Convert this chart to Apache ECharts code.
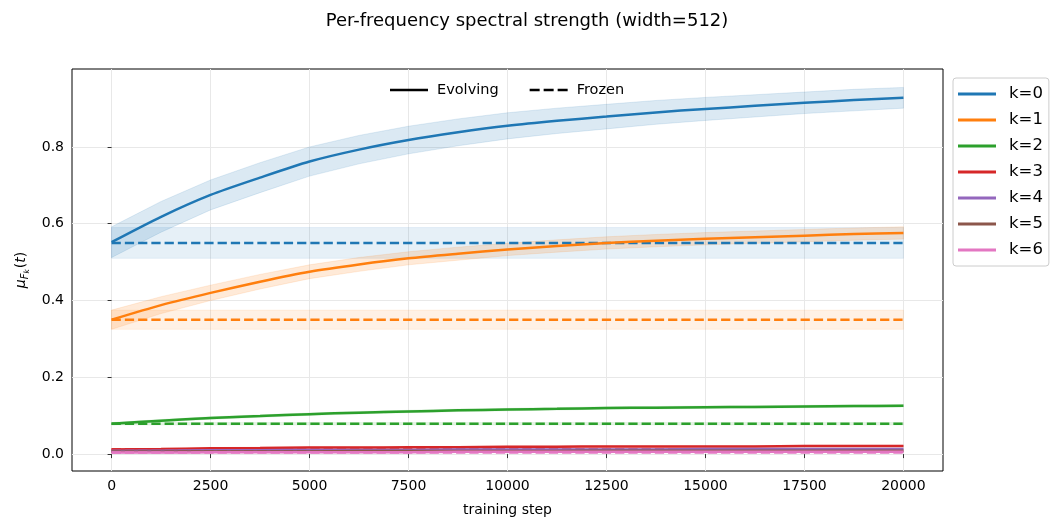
<!DOCTYPE html>
<html><head><meta charset="utf-8">
<script src="https://cdn.jsdelivr.net/npm/echarts@6/dist/echarts.min.js"></script>
<style>html,body{margin:0;padding:0;background:#fff}#c{width:1054px;height:519px}</style>
</head><body><div id="c"></div>
<script>
// ---- data ----
const steps = [0,1250,2500,3750,5000,6250,7500,8750,10000,11250,12500,13750,15000,16250,17500,18750,20000];
const kLabels = ['k=0','k=1','k=2','k=3','k=4','k=5','k=6'];
const colors = ['#1f77b4','#ff7f0e','#2ca02c','#d62728','#9467bd','#8c564b','#e377c2'];
const evoK0 = [0.552,0.618,0.675,0.720,0.762,0.793,0.818,0.838,0.855,0.868,0.879,0.890,0.899,0.907,0.915,0.922,0.928];
const evoK1 = [0.350,0.388,0.420,0.449,0.475,0.494,0.510,0.522,0.533,0.542,0.550,0.556,0.561,0.565,0.569,0.573,0.576];
const evoK2 = [0.079,0.087,0.094,0.099,0.104,0.108,0.111,0.114,0.116,0.118,0.120,0.121,0.122,0.123,0.124,0.125,0.126];
const evoK3 = [0.012,0.013,0.015,0.016,0.017,0.017,0.018,0.018,0.019,0.019,0.020,0.020,0.020,0.020,0.021,0.021,0.021];
const evoK4 = [0.008,0.009,0.010,0.010,0.011,0.011,0.011,0.012,0.012,0.012,0.012,0.012,0.013,0.013,0.013,0.013,0.013];
const evoK5 = [0.006,0.006,0.007,0.007,0.007,0.008,0.008,0.008,0.008,0.008,0.009,0.009,0.009,0.009,0.009,0.009,0.009];
const evoK6 = [0.004,0.004,0.005,0.005,0.005,0.005,0.005,0.006,0.006,0.006,0.006,0.006,0.006,0.006,0.006,0.006,0.006];
const stdK0 = [0.040,0.040,0.039,0.039,0.038,0.037,0.036,0.035,0.034,0.033,0.032,0.031,0.030,0.029,0.028,0.028,0.027];
const stdK1 = [0.025,0.022,0.020,0.019,0.018,0.018,0.017,0.017,0.016,0.016,0.016,0.016,0.016,0.016,0.016,0.016,0.016];
const stdK2 = [0.003,0.003,0.003,0.003,0.003,0.003,0.003,0.003,0.003,0.003,0.003,0.003,0.003,0.003,0.003,0.003,0.003];
const stdK3 = [0.002,0.002,0.002,0.002,0.002,0.002,0.002,0.002,0.002,0.002,0.002,0.002,0.002,0.002,0.002,0.002,0.002];
const stdK4 = [0.001,0.001,0.001,0.001,0.001,0.001,0.001,0.001,0.001,0.001,0.001,0.001,0.001,0.001,0.001,0.001,0.001];
const stdK5 = [0.001,0.001,0.001,0.001,0.001,0.001,0.001,0.001,0.001,0.001,0.001,0.001,0.001,0.001,0.001,0.001,0.001];
const stdK6 = [0.001,0.001,0.001,0.001,0.001,0.001,0.001,0.001,0.001,0.001,0.001,0.001,0.001,0.001,0.001,0.001,0.001];
const frozenSteps = [0,20000];
const frozenMean = [0.55,0.35,0.079,0.012,0.008,0.006,0.004];
const frozenStd = [0.040,0.025,0.003,0.002,0.001,0.001,0.001];
const xTicks = [0,2500,5000,7500,10000,12500,15000,17500,20000];
const yTicks = [0,0.2,0.4,0.6,0.8];

const evo = [evoK0,evoK1,evoK2,evoK3,evoK4,evoK5,evoK6];
const evoStd = [stdK0,stdK1,stdK2,stdK3,stdK4,stdK5,stdK6];

function hexA(h,a){const r=parseInt(h.slice(1,3),16),g=parseInt(h.slice(3,5),16),b=parseInt(h.slice(5,7),16);return `rgba(${r},${g},${b},${a})`;}

const FONT = 'DejaVu Sans';
const DASH = [9.25,4];
const series = [];
function band(xs, mean, std, color, alpha){
  series.push({type:'custom', name:'_band', silent:true, z:1, clip:true,
    data:[[xs[0], mean[0]]],
    renderItem:function(params, api){
      const pts = [];
      for(let i=0;i<xs.length;i++) pts.push(api.coord([xs[i], mean[i]+std[i]]));
      for(let i=xs.length-1;i>=0;i--) pts.push(api.coord([xs[i], mean[i]-std[i]]));
      return {type:'polygon', shape:{points:pts}, style:{fill:hexA(color,alpha), stroke:hexA(color,alpha*0.8), lineWidth:1}};
    }});
}
for(let k=0;k<7;k++){
  band(steps, evo[k], evoStd[k], colors[k], 0.16);
  band(frozenSteps, frozenSteps.map(()=>frozenMean[k]), frozenSteps.map(()=>frozenStd[k]), colors[k], 0.11);
}
for(let k=0;k<7;k++){
  series.push({type:'line', name:kLabels[k], data:steps.map((x,i)=>[x,evo[k][i]]), symbol:'none', smooth:0.25,
    lineStyle:{color:colors[k], width:2.5}, itemStyle:{color:colors[k]}, z:3});
  series.push({type:'line', name:kLabels[k], data:frozenSteps.map(x=>[x,frozenMean[k]]), symbol:'none',
    lineStyle:{color:colors[k], width:2.5, type:DASH}, itemStyle:{color:colors[k]}, z:3});
}
series.push({type:'line', name:'Evolving', data:[], symbol:'none', lineStyle:{color:'#000', width:2.5}, itemStyle:{color:'#000'}});
series.push({type:'line', name:'Frozen', data:[], symbol:'none', lineStyle:{color:'#000', width:2.5, type:DASH}, itemStyle:{color:'#000'}});

const chart = echarts.init(document.getElementById('c'), null, {renderer:'canvas'});
chart.setOption({
  animation:false,
  backgroundColor:'#fff',
  title:{text:'Per-frequency spectral strength (width=512)', left:'center', top:7,
    textStyle:{fontFamily:FONT, fontSize:18, fontWeight:'normal', color:'#000'}},
  grid:{left:72, right:111, top:69, bottom:48, show:true, borderColor:'#000', borderWidth:1, backgroundColor:'transparent',
    containLabel:false, outerBoundsMode:'none'},
  legend:[
    {data:kLabels, orient:'vertical', left:953, top:78, padding:[7,6,7,5], itemWidth:38, itemHeight:3, itemGap:8,
     icon:'rect', itemStyle:{borderWidth:0},
     textStyle:{fontFamily:FONT, fontSize:16.5, color:'#000', lineHeight:18, padding:[0,0,0,8]}, borderColor:'#cccccc', borderWidth:1, borderRadius:3,
     backgroundColor:'#fff', selectedMode:false},
    {data:[{name:'Evolving', icon:'rect'},
           {name:'Frozen', icon:'path://M0,0h10v2.5h-10z M14,0h10v2.5h-10z M28,0h10v2.5h-10z'}],
     orient:'horizontal', left:385, top:77, itemWidth:38, itemHeight:2.5, itemGap:31, itemStyle:{borderWidth:0},
     textStyle:{fontFamily:FONT, fontSize:14.5, color:'#000', lineHeight:16, padding:[0,0,0,4]}, selectedMode:false}
  ],
  xAxis:{type:'value', min:-1000, max:21000, name:'training step', nameLocation:'middle', nameGap:32,
    nameTextStyle:{fontFamily:FONT, fontSize:14, color:'#000'},
    axisLine:{show:false}, axisTick:{show:true, length:4, customValues:xTicks, lineStyle:{color:'#333'}},
    axisLabel:{customValues:xTicks, formatter:v=>String(v), fontFamily:FONT, fontSize:14, color:'#000', margin:8},
    splitLine:{show:true, lineStyle:{color:'#e8e8e8', width:1}}},
  yAxis:{type:'value', min:-0.044, max:1.003,
    name:'{i|μ}{s|F}{ss|k}{n|(}{i|t}{n|)}', nameLocation:'middle', nameGap:36,
    nameTextStyle:{fontFamily:FONT, fontSize:14, color:'#000',
      rich:{i:{fontFamily:FONT, fontSize:14, fontStyle:'italic', color:'#000'},
            n:{fontFamily:FONT, fontSize:14, color:'#000'},
            s:{fontFamily:FONT, fontSize:10, fontStyle:'italic', color:'#000', verticalAlign:'bottom', padding:[6,0,0,0]},
            ss:{fontFamily:FONT, fontSize:7.5, fontStyle:'italic', color:'#000', verticalAlign:'bottom', padding:[10,1,0,0]}}},
    axisLine:{show:false}, axisTick:{show:true, length:4, customValues:yTicks, lineStyle:{color:'#333'}},
    axisLabel:{customValues:yTicks, formatter:v=>v.toFixed(1), fontFamily:FONT, fontSize:14, color:'#000', margin:8},
    splitLine:{show:true, lineStyle:{color:'#e8e8e8', width:1}}},
  series:series
});
</script></body></html>
